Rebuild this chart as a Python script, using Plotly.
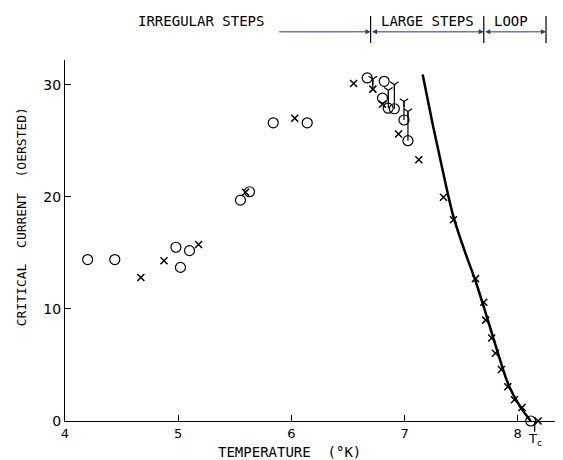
import plotly.graph_objects as go

# open circles (T in K, critical current in Oe)
circle_T = [4.20, 4.44, 4.98, 5.02, 5.10, 5.55, 5.63, 5.84, 6.14, 6.67, 6.82, 6.805, 6.855, 6.91, 6.995, 7.03, 8.115]
circle_I = [14.4, 14.4, 15.5, 13.7, 15.2, 19.7, 20.45, 26.6, 26.6, 30.6, 30.3, 28.8, 27.9, 27.85, 26.85, 25.0, 0.0]

# crosses
cross_T = [4.67, 4.875, 5.18, 5.595, 6.03, 6.55, 6.72, 6.805, 6.947, 7.126, 7.344, 7.432, 7.627,
           7.70, 7.717, 7.77, 7.803, 7.856, 7.912, 7.97, 8.038, 8.18]
cross_I = [12.8, 14.3, 15.75, 20.4, 27.0, 30.1, 29.6, 28.25, 25.6, 23.3, 19.95, 17.95, 12.7,
           10.6, 9.0, 7.4, 6.05, 4.6, 3.05, 1.9, 1.2, 0.0]

# vertical step ranges ending in a fork
step_T = [6.72, 6.857, 6.91, 6.995, 7.03]
step_low = [29.6, 27.9, 27.85, 26.85, 25.0]
step_high = [30.5, 29.5, 30.0, 28.5, 27.6]

# drawn curve
curve_T = [7.16, 7.25, 7.34, 7.43, 7.53, 7.63, 7.73, 7.83, 7.92, 8.02, 8.115]
curve_I = [30.9, 26.4, 22.2, 18.3, 15.2, 12.4, 9.2, 5.9, 3.2, 1.3, 0.0]

# regions along the top
region_names = ["IRREGULAR STEPS", "LARGE STEPS", "LOOP"]
region_edges = [6.7, 7.7, 8.25]
irregular_line_start = 5.88
Tc = 8.15

FONT = "DejaVu Sans"
LETTER = "DejaVu Sans Mono"
fig = go.Figure()

# step bars
sx, sy = [], []
for t, lo, hi in zip(step_T, step_low, step_high):
    sx += [t, t, None]
    sy += [lo, hi, None]
fig.add_trace(go.Scatter(x=sx, y=sy, mode="lines", line=dict(color="black", width=1.2),
                         hoverinfo="skip", showlegend=False))
fig.add_trace(go.Scatter(x=step_T, y=step_high, mode="markers",
                         marker=dict(symbol="y-down", size=7, line=dict(color="black", width=1.2)),
                         showlegend=False))

fig.add_trace(go.Scatter(x=curve_T, y=curve_I, mode="lines", line=dict(color="black", width=2.5, shape="spline"),
                         showlegend=False))
fig.add_trace(go.Scatter(x=circle_T, y=circle_I, mode="markers", cliponaxis=False,
                         marker=dict(symbol="circle-open", size=10, color="black", line=dict(width=1.2)),
                         showlegend=False))
fig.add_trace(go.Scatter(x=cross_T, y=cross_I, mode="markers", cliponaxis=False,
                         marker=dict(symbol="x-thin-open", size=7, color="black", line=dict(width=1.5, color="black")),
                         showlegend=False))

# region boundaries and arrows at the top
for e in region_edges:
    fig.add_shape(type="line", xref="x", yref="paper", x0=e, x1=e, y0=1.047, y1=1.122,
                  line=dict(color="black", width=1.2))
arrow_y = 1.078
fig.add_annotation(x=region_edges[0], y=arrow_y, xref="x", yref="paper", ax=irregular_line_start, ay=0,
                   axref="x", ayref="pixel", showarrow=True, arrowhead=2, arrowsize=1, arrowwidth=1, text="")
for a, b in zip(region_edges[:-1], region_edges[1:]):
    fig.add_annotation(x=b, y=arrow_y, xref="x", yref="paper", ax=a, ay=0, axref="x", ayref="pixel",
                       showarrow=True, arrowhead=2, arrowside="end+start", arrowsize=1, arrowwidth=1, text="")
label_pos = [5.2, 7.2, 7.94]
for name, xp in zip(region_names, label_pos):
    fig.add_annotation(x=xp, y=1.108, xref="x", yref="paper", text=name, showarrow=False,
                       xanchor="center", yanchor="middle",
                       font=dict(family=LETTER, size=14, color="black"))

# Tc marker below the axis
fig.add_shape(type="line", xref="x", yref="paper", x0=Tc, x1=Tc, y0=0, y1=-0.03,
              line=dict(color="black", width=1.2))
fig.add_annotation(x=Tc, y=-0.022, xref="x", yref="paper", text="T<sub>c</sub>", showarrow=False,
                   yanchor="top", font=dict(family=FONT, size=13, color="black"))

# axis titles
fig.add_annotation(x=0.45, y=-0.087, xref="paper", yref="paper", text="TEMPERATURE  (°K)", showarrow=False,
                   xanchor="center", yanchor="middle", font=dict(family=LETTER, size=14, color="black"))
fig.add_annotation(x=-0.088, y=0.565, xref="paper", yref="paper", text="CRITICAL  CURRENT  (OERSTED)",
                   xanchor="center", yanchor="middle",
                   textangle=-90, showarrow=False, font=dict(family=LETTER, size=13, color="black"))

fig.update_xaxes(range=[4, 8.4], tickvals=[4, 5, 6, 7, 8], ticks="inside", ticklen=6, tickcolor="black",
                 showline=True, linecolor="black", linewidth=1.2, showgrid=False, zeroline=False,
                 tickfont=dict(family=FONT, size=13, color="black"))
fig.update_yaxes(range=[0, 32.2], tickvals=[0, 10, 20, 30], ticks="inside", ticklen=6, tickcolor="black",
                 showline=True, linecolor="black", linewidth=1.2, showgrid=False, zeroline=False,
                 tickfont=dict(family=FONT, size=14, color="black"))
fig.update_layout(width=563, height=460, margin=dict(l=57, r=8, t=52, b=47),
                  plot_bgcolor="white", paper_bgcolor="white", font=dict(family=FONT))

fig.write_html("out.html")
